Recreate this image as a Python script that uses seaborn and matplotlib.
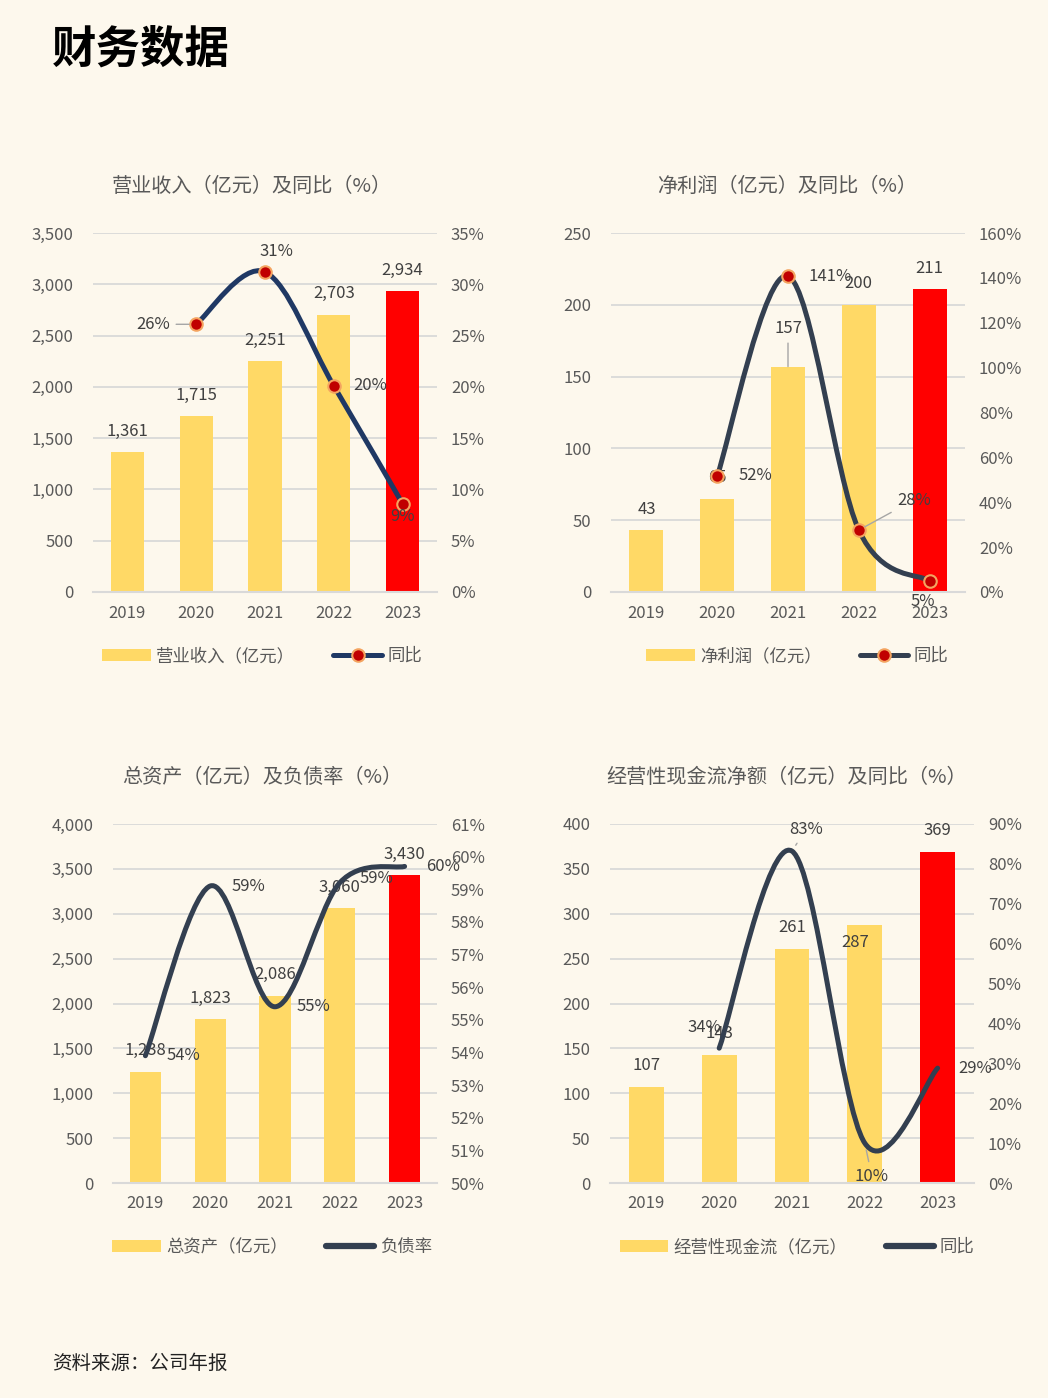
import numpy as np
import matplotlib
matplotlib.use("Agg")
import matplotlib.pyplot as plt
import seaborn as sns
from matplotlib.path import Path
from matplotlib.patches import PathPatch, Patch
from matplotlib.lines import Line2D
from matplotlib.ticker import FuncFormatter

# ---- data ----
years = ["2019", "2020", "2021", "2022", "2023"]

revenue = [1361, 1715, 2251, 2703, 2934]
revenue_yoy_years = ["2020", "2021", "2022", "2023"]
revenue_yoy = [26.1, 31.2, 20.1, 8.6]

net_profit = [43, 65, 157, 200, 211]
net_profit_yoy_years = ["2020", "2021", "2022", "2023"]
net_profit_yoy = [51.7, 140.8, 27.6, 4.9]

total_assets = [1238, 1823, 2086, 3060, 3430]
debt_ratio_years = ["2019", "2020", "2021", "2022", "2023"]
debt_ratio = [53.9, 59.1, 55.4, 59.2, 59.7]

op_cashflow = [107, 143, 261, 287, 369]
op_cashflow_yoy_years = ["2020", "2021", "2022", "2023"]
op_cashflow_yoy = [33.8, 83.2, 10.0, 28.8]

# ---- style ----
BG = "#FDF8ED"
GOLD = "#FFD966"
RED = "#FF0000"
GRID = "#D9D9D9"
TXT = "#595959"
LBL = "#404040"
NAVY = "#1F3864"
SLATE = "#333F50"

sns.set_theme(style="white")
plt.rcParams["font.family"] = ["Noto Sans CJK SC", "DejaVu Sans"]
plt.rcParams["axes.unicode_minus"] = False

W, H = 1048, 1398
fig = plt.figure(figsize=(W / 100, H / 100), dpi=100, facecolor=BG)


def px_rect(l, r, t, b):
    return [l / W, 1 - b / H, (r - l) / W, (b - t) / H]


def smooth_path(xs, ys):
    # bezier segments like a spreadsheet "smoothed line"
    pts = np.column_stack([xs, ys]).astype(float)
    n = len(pts)
    verts, codes = [pts[0]], [Path.MOVETO]
    for i in range(n - 1):
        p0 = pts[i - 1] if i > 0 else pts[i]
        p1, p2 = pts[i], pts[i + 1]
        p3 = pts[i + 2] if i + 2 < n else pts[i + 1]
        verts += [p1 + (p2 - p0) / 6, p2 - (p3 - p1) / 6, p2]
        codes += [Path.CURVE4] * 3
    return Path(verts, codes)


def px2pt(dx, dy):
    return (dx * 0.72, -dy * 0.72)


def panel(rect, title, title_cx, title_cy, bars, ymax, ystep, line_years, line_vals,
          y2lim, y2step, line_color, markers, bar_name, line_name, legend_cx,
          legend_cy, bar_offsets, pct_offsets, leaders_bar=(), leaders_pct=()):
    ax = fig.add_axes(px_rect(*rect))
    ax.set_facecolor(BG)
    colors = [GOLD] * 4 + [RED]
    sns.barplot(x=years, y=bars, hue=years, palette=colors, legend=False,
                width=0.48, saturation=1, linewidth=0, edgecolor="none", ax=ax)
    ax.set_xlim(-0.5, 4.5)
    ax.set_ylim(0, ymax)
    ax.set_yticks(np.arange(0, ymax + 1, ystep))
    ax.yaxis.set_major_formatter(FuncFormatter(lambda v, p: f"{v:,.0f}"))
    ax.yaxis.grid(True, color=GRID, lw=1.3)
    ax.set_axisbelow(True)
    for s in ["top", "left", "right"]:
        ax.spines[s].set_visible(False)
    ax.spines["bottom"].set_color(GRID)
    ax.spines["bottom"].set_linewidth(1.5)
    ax.tick_params(axis="y", length=0, pad=14, labelsize=12, labelcolor=TXT)
    ax.tick_params(axis="x", length=0, pad=9, labelsize=12, labelcolor=TXT)
    ax.set_xlabel("")
    ax.set_ylabel("")

    for i, v in enumerate(bars):
        dx, dy = bar_offsets.get(i, (0, -21))
        kw = {}
        if i in leaders_bar:
            kw["arrowprops"] = dict(arrowstyle="-", color="#A6A6A6", lw=1,
                                    shrinkA=2, shrinkB=0)
        ax.annotate(f"{v:,}", xy=(i, v), xytext=px2pt(dx, dy),
                    textcoords="offset points", ha="center", va="center",
                    fontsize=12, color=LBL, **kw)

    ax2 = ax.twinx()
    ax2.set_ylim(*y2lim)
    ax2.set_yticks(np.arange(y2lim[0], y2lim[1] + 0.01, y2step))
    ax2.yaxis.set_major_formatter(FuncFormatter(lambda v, p: f"{v:.0f}%"))
    for s in ax2.spines.values():
        s.set_visible(False)
    ax2.tick_params(axis="y", length=0, pad=10, labelsize=12, labelcolor=TXT)

    xs = [years.index(y) for y in line_years]
    ax2.add_patch(PathPatch(smooth_path(xs, line_vals), fill=False,
                            edgecolor=line_color, lw=3.6, capstyle="round",
                            joinstyle="round", zorder=3))
    if markers:
        ax2.plot(xs, line_vals, ls="none", marker="o", ms=9,
                 mfc="#C00000", mec="#F4A460", mew=1.5, zorder=4)

    for j, (x, v) in enumerate(zip(xs, line_vals)):
        dx, dy = pct_offsets[j]
        kw = {}
        if j in leaders_pct:
            kw["arrowprops"] = dict(arrowstyle="-", color="#A6A6A6", lw=1,
                                    shrinkA=2, shrinkB=5)
        ax2.annotate(f"{v:.0f}%", xy=(x, v), xytext=px2pt(dx, dy),
                     textcoords="offset points", ha="center", va="center",
                     fontsize=12, color=LBL, zorder=5, **kw)

    fig.text(title_cx / W, 1 - title_cy / H, title,
             ha="center", va="center", fontsize=14.5, color=TXT)

    h_bar = Patch(facecolor=GOLD, edgecolor="none")
    if markers:
        h_line = Line2D([], [], color=line_color, lw=3.6, marker="o", ms=9,
                        mfc="#C00000", mec="#F4A460", mew=1.5)
    else:
        h_line = Line2D([], [], color=line_color, lw=4.5, solid_capstyle="round")
    fig.legend([h_bar, h_line], [bar_name, line_name], loc="center",
               bbox_to_anchor=(legend_cx / W, 1 - legend_cy / H), ncol=2,
               frameon=False, fontsize=12.5, labelcolor=TXT, handlelength=2.8,
               handletextpad=0.3, columnspacing=2.2)
    return ax, ax2


# 营业收入
panel((93, 437, 233, 592), "营业收入（亿元）及同比（%）", 252, 186, revenue, 3500, 500,
      revenue_yoy_years, revenue_yoy, (0, 35), 5, NAVY, True,
      "营业收入（亿元）", "同比", 262, 656,
      {}, [(-43, 0), (11, -20), (36, 0), (0, 13)], leaders_pct=(0,))

# 净利润
panel((611, 965, 233, 592), "净利润（亿元）及同比（%）", 787, 186, net_profit, 250, 50,
      net_profit_yoy_years, net_profit_yoy, (0, 160), 20, SLATE, True,
      "净利润（亿元）", "同比", 797, 656,
      {2: (0, -38)}, [(38, 0), (42, 0), (55, -30), (-7, 20)],
      leaders_bar=(2,), leaders_pct=(2,))

# 总资产
panel((113, 437, 824, 1183), "总资产（亿元）及负债率（%）", 262, 777, total_assets, 4000, 500,
      debt_ratio_years, debt_ratio, (50, 61), 1, SLATE, False,
      "总资产（亿元）", "负债率", 272, 1247,
      {}, [(38, 0), (38, 0), (38, 0), (37, -4), (38, 0)])

# 经营性现金流
panel((610, 974, 824, 1183), "经营性现金流净额（亿元）及同比（%）", 787, 777, op_cashflow, 400, 50,
      op_cashflow_yoy_years, op_cashflow_yoy, (0, 90), 10, SLATE, False,
      "经营性现金流（亿元）", "同比", 797, 1247,
      {3: (-10, 17)}, [(-15, -21), (14, -22), (7, 33), (38, 0)],
      leaders_pct=(1, 2))

fig.text(52 / W, 1 - 50 / H, "财务数据", ha="left", va="center", fontsize=32,
         fontweight="bold", color="black")
fig.text(52 / W, 1 - 1363 / H, "资料来源：公司年报", ha="left", va="center",
         fontsize=14, style="italic", color="#222222")

fig.savefig("out.png", dpi=100, facecolor=BG)
